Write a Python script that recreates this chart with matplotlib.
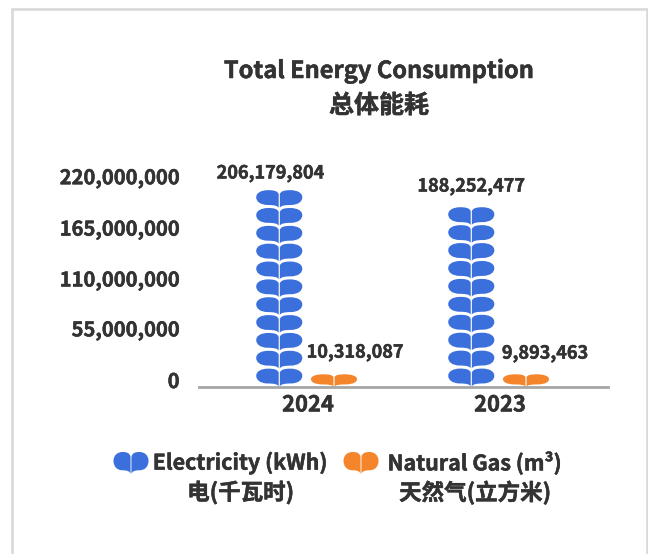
import matplotlib
matplotlib.use('Agg')
import matplotlib.patheffects as pe
import matplotlib.pyplot as plt
from matplotlib.patches import PathPatch, Rectangle
from matplotlib.path import Path
from matplotlib.text import Text
from matplotlib.transforms import Affine2D, ScaledTranslation

plt.rcParams['font.family'] = ['Noto Sans CJK SC', 'DejaVu Sans']
plt.rcParams['font.weight'] = 900

years = ['2024', '2023']
electricity = [206179804, 188252477]
natural_gas = [10318087, 9893463]
y_ticks = [0, 55000000, 110000000, 165000000, 220000000]
y_tick_labels = ['0', '55,000,000', '110,000,000', '165,000,000', '220,000,000']
legend_labels = ['Electricity (kWh)\n电(千瓦时)', 'Natural Gas (m³)\n天然气(立方米)']

W, H = 648, 554
BLUE = '#3a6fdc'
ORANGE = '#f5852a'
TEXT = '#333333'
UNIT = 18.7e6      # value of one leaf pair
MIN_LEAF = 12.8e6  # small bars keep a readable sprout
PX = 72 / 100      # one pixel in points


def leaf_path():
    right = [(.025, 0), (.05, .12), (.22, .17), (.5, .17), (.85, .18), (1, .38), (1, .6),
             (1, .85), (.78, 1), (.48, 1), (.22, 1), (.07, .95), (.025, .78), (.025, 0)]
    codes = [Path.MOVETO] + [Path.CURVE4] * 12 + [Path.CLOSEPOLY]
    left = [(-x, y) for x, y in right]
    return Path(right + left, codes + codes)


LEAF = leaf_path()


def draw_bar(ax, x, value, color):
    n = max(1, round(value / UNIT))
    step = value / n
    for i in range(n):
        h = max(step, MIN_LEAF)
        tr = Affine2D().scale(0.12, h).translate(x, i * step) + ax.transData
        ax.add_patch(PathPatch(LEAF, fc=color, ec='none', transform=tr, clip_on=False))


fig = plt.figure(figsize=(W / 100, H / 100), dpi=100)
ax = fig.add_axes([199 / W, (H - 386.5) / H, 409 / W, 209.5 / H])
ax.set_xlim(-0.568, 1.562)
ax.set_ylim(0, 220000000)

# frame of the card, open at the bottom
fig.add_artist(Rectangle((11.5 / W, -0.02), 635.5 / W, (H - 9) / H + 0.02, fill=False,
                         ec='#d9d9d9', lw=1.9, transform=fig.transFigure))

offsets = {'blue': [(-9, 17), (0, 21)], 'orange': [(21, 22), (19, 21)]}
for i in range(len(years)):
    bx, ox = i - 0.15, i + 0.135
    draw_bar(ax, bx, electricity[i], BLUE)
    draw_bar(ax, ox, natural_gas[i], ORANGE)
    ax.annotate(f'{electricity[i]:,}', (bx, electricity[i]),
                xytext=(offsets['blue'][i][0] * PX, offsets['blue'][i][1] * PX),
                textcoords='offset points', ha='center', va='center', fontsize=13, color=TEXT)
    tip = max(natural_gas[i], MIN_LEAF)
    ax.annotate(f'{natural_gas[i]:,}', (ox, tip),
                xytext=(offsets['orange'][i][0] * PX, offsets['orange'][i][1] * PX),
                textcoords='offset points', ha='center', va='center', fontsize=13, color=TEXT)

for s in ['top', 'right', 'left']:
    ax.spines[s].set_visible(False)
ax.spines['bottom'].set_color('#a6a6a6')
ax.spines['bottom'].set_linewidth(2)

ax.set_xticks(range(len(years)), years, fontsize=15.8, color=TEXT)
ax.tick_params(axis='x', length=0, pad=5)
ax.set_yticks(y_ticks, y_tick_labels, fontsize=14.5, color=TEXT)
ax.tick_params(axis='y', length=0, pad=14)
# labels are spread evenly from a raised zero, not on the bar scale
for lab, dy in zip(ax.get_yticklabels(), [7, 6, 3.5, 2, 1]):
    lab.set_transform(lab.get_transform() + ScaledTranslation(0, dy / 100, fig.dpi_scale_trans))

fig.text(379 / W, (H - 71) / H, 'Total Energy Consumption', ha='center', va='center',
         fontsize=17, color=TEXT)
fig.text(379 / W, (H - 106) / H, '总体能耗', ha='center', va='center', fontsize=18, color=TEXT)

# legend
icon_x = [131, 361]
text_x = [240.5, 475]
for i, col in enumerate([BLUE, ORANGE]):
    tr = Affine2D().scale(17.5 / W, 22 / H).translate(icon_x[i] / W, (H - 474) / H) + fig.transFigure
    fig.add_artist(PathPatch(LEAF, fc=col, ec='none', transform=tr))
    first, second = legend_labels[i].split('\n')
    fig.text(text_x[i] / W, (H - 463) / H, first, ha='center', va='center', fontsize=15.4, color=TEXT)
    fig.text(text_x[i] / W, (H - 493) / H, second, ha='center', va='center', fontsize=16.2, color=TEXT)

# the installed bold is a little lighter than the reference
for t in fig.findobj(Text):
    t.set_path_effects([pe.withStroke(linewidth=0.35, foreground=TEXT)])

fig.savefig('out.png', dpi=100)
